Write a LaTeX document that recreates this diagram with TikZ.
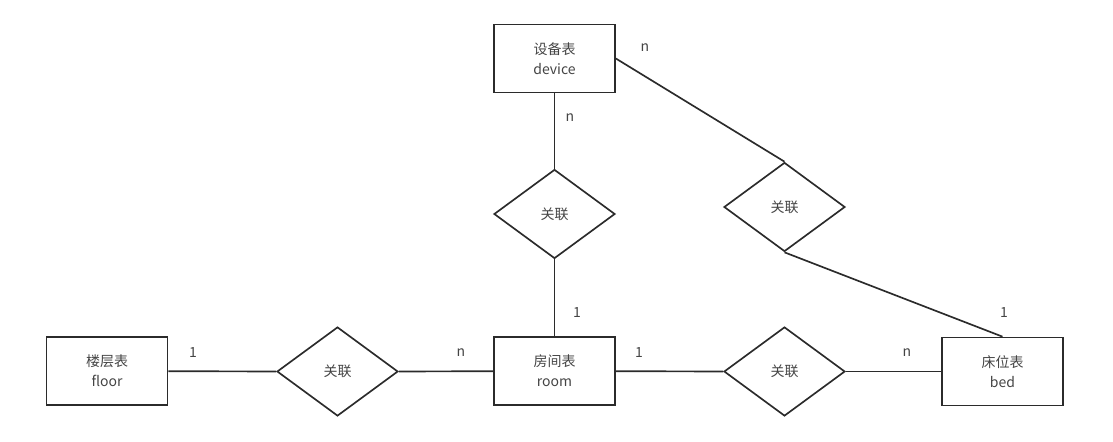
\documentclass[tikz,border=0pt]{standalone}
\usepackage{fontspec}
\setmainfont{Noto Sans CJK SC}
\usetikzlibrary{shapes.geometric}
\definecolor{ink}{HTML}{2B2B2B}
\definecolor{txt}{HTML}{444444}

\begin{document}
\begin{tikzpicture}[x=0.75pt, y=-0.75pt, line width=1.25pt, draw=ink,
		font=\fontsize{10.5pt}{15pt}\selectfont, text=txt,
		entity/.style={draw=ink, rectangle, minimum width=90.75pt, minimum height=51pt, align=center, inner sep=0pt},
		relation/.style={draw=ink, diamond, minimum width=90.75pt, minimum height=66.75pt, aspect=1.36, inner sep=0pt},
		card/.style={inner sep=0pt, text=txt}]
		\useasboundingbox (0,0) rectangle (1113,442);
		% entities
		\node[entity] (device) at (554.5, 58.5) {设备表\\device};
		\node[entity] (floor) at (107, 371) {楼层表\\floor};
		\node[entity] (room) at (554.5, 371) {房间表\\room};
		\node[entity] (bed) at (1002.5, 371.5) {床位表\\bed};
		% relations
		\node[relation] (relDR) at (554.5, 214) {关联};
		\node[relation] (relDB) at (784.5, 207) {关联};
		\node[relation] (relFR) at (337.5, 371.5) {关联};
		\node[relation] (relRB) at (784.5, 371.5) {关联};
		% connectors
		\draw[ink] (device) -- (relDR.north);
		\draw[ink] (relDR.south) -- (room);
		\draw[ink] (device.east) -- (relDB.north);
		\draw[ink] (relDB.south) -- (bed.north);
		\draw[ink] (floor) -- (relFR.west);
		\draw[ink] (relFR.east) -- (room);
		\draw[ink] (room) -- (relRB.west);
		\draw[ink] (relRB.east) -- (bed);
		% cardinalities
		\node[card] (cDevR) at (645, 48) {n};
		\node[card] (cDevD) at (570, 118) {n};
		\node[card] (cRoomT) at (577, 313) {1};
		\node[card] (cFloor) at (193, 353) {1};
		\node[card] (cRoomL) at (461, 353) {n};
		\node[card] (cRoomR) at (639, 353) {1};
		\node[card] (cBedL) at (907, 353) {n};
		\node[card] (cBedT) at (1004, 313) {1};
	\end{tikzpicture}
\end{document}
